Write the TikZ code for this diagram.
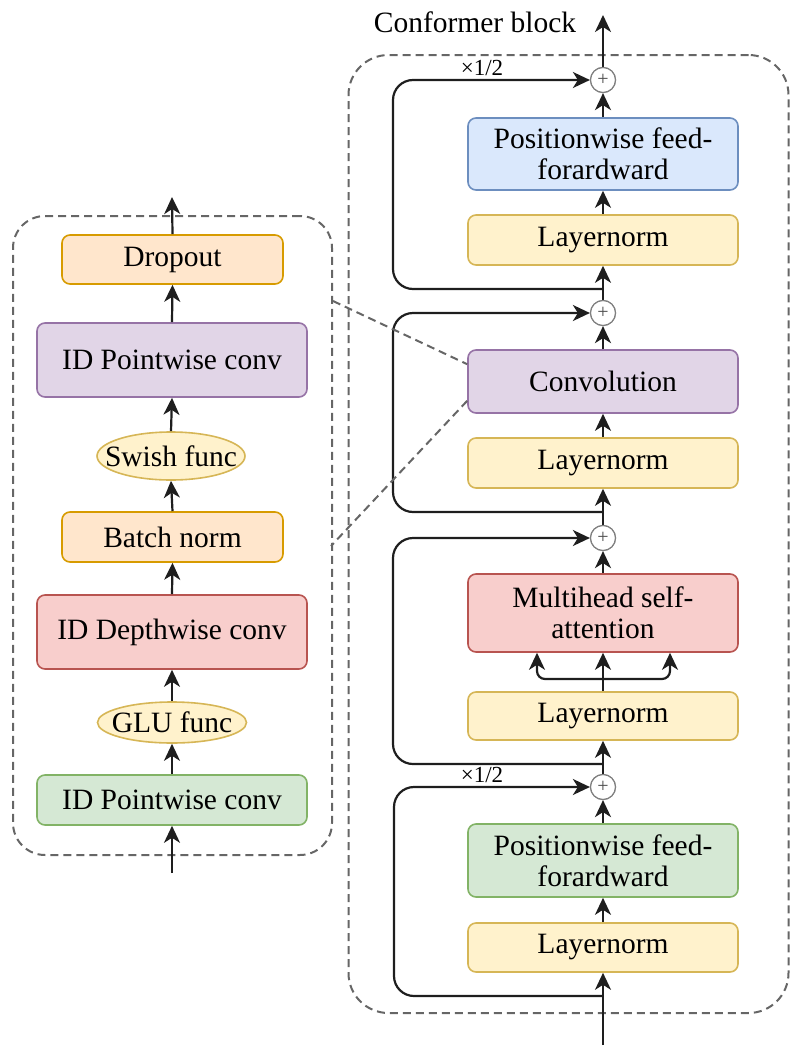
\documentclass[tikz,border=0pt]{standalone}
\usepackage{fontspec}
\setmainfont{Liberation Serif}
\usetikzlibrary{arrows.meta,shapes.geometric,calc}
\definecolor{lnfill}{HTML}{FFF2CC}
\definecolor{lnline}{HTML}{D6B656}
\definecolor{bluefill}{HTML}{DAE8FC}
\definecolor{blueline}{HTML}{6C8EBF}
\definecolor{purfill}{HTML}{E1D5E7}
\definecolor{purline}{HTML}{9673A6}
\definecolor{redfill}{HTML}{F8CECC}
\definecolor{redline}{HTML}{B85450}
\definecolor{grnfill}{HTML}{D5E8D4}
\definecolor{grnline}{HTML}{82B366}
\definecolor{orgfill}{HTML}{FFE6CC}
\definecolor{orgline}{HTML}{D79B00}
\definecolor{arrcol}{HTML}{1E1E1E}
\definecolor{dashcol}{HTML}{666666}
\begin{document}
\begin{tikzpicture}[x=1pt,y=-1pt,
  txt/.style={font=\fontsize{29.5}{31}\selectfont},
  box/.style={txt, draw, rounded corners=8pt, line width=1.6pt, minimum width=270pt, inner sep=0pt, align=center},
  lnbox/.style={box, fill=lnfill, draw=lnline, minimum height=50pt},
  bluebox/.style={box, fill=bluefill, draw=blueline, minimum height=72pt},
  purbox/.style={box, fill=purfill, draw=purline},
  redbox/.style={box, fill=redfill, draw=redline},
  grnbox/.style={box, fill=grnfill, draw=grnline},
  orgbox/.style={box, fill=orgfill, draw=orgline, minimum width=221pt, minimum height=49pt},
  ell/.style={txt, ellipse, draw=lnline, fill=lnfill, line width=1.6pt, inner sep=0pt},
  plusnode/.style={circle, draw=gray, fill=white, minimum size=25pt, inner sep=0pt, line width=1.2pt, text=black!70, font=\fontsize{20}{20}\selectfont},
  arr/.style={line width=2.2pt, draw=arrcol, -{Stealth[length=17pt,width=16pt,inset=5pt]}},
  skipline/.style={arr, rounded corners=20pt},
  dashbox/.style={draw=dashcol, line width=2pt, dash pattern=on 8pt off 5pt, inner sep=0pt},
  dashline/.style={draw=dashcol, line width=2pt, dash pattern=on 8pt off 5pt},
  half/.style={font=\fontsize{23}{23}\selectfont}
]
\useasboundingbox (0,0) rectangle (804,1055);

% panels
\node[dashbox, rounded corners=40pt, minimum width=440pt, minimum height=958pt] (rpanel) at (568.5,534) {};
\node[dashbox, rounded corners=32pt, minimum width=319pt, minimum height=639pt] (lpanel) at (172.5,535.5) {};

% right column
\node[txt] (title) at (475,22) {Conformer block};
\coordinate (out) at (603,15);
\node[plusnode] (p1) at (603,80) {+};
\node[bluebox] (ffn2) at (603,154) {Positionwise feed-\\forardward};
\node[lnbox] (ln1) at (603,240) {Layernorm};
\node[plusnode] (p2) at (603,313) {+};
\node[purbox, minimum height=63pt] (conv) at (603,381.5) {Convolution};
\node[lnbox] (ln2) at (603,463) {Layernorm};
\node[plusnode] (p3) at (603,538) {+};
\node[redbox, minimum height=78pt] (mhsa) at (603,613) {Multihead self-\\attention};
\node[lnbox, minimum height=48pt] (ln3) at (603,716) {Layernorm};
\node[plusnode] (p4) at (603,787) {+};
\node[grnbox, minimum height=73pt] (ffn1) at (603,860.5) {Positionwise feed-\\forardward};
\node[lnbox, minimum height=49pt] (ln4) at (603,947.5) {Layernorm};
\coordinate (in) at (603,1045);

\coordinate (b1) at (603,289);
\coordinate (b2) at (603,512);
\coordinate (b3) at (603,764);
\coordinate (b4) at (603,996);
\coordinate (fork) at (603,679);

% trunk
\draw[arr] (in) -- (ln4.south);
\draw[arr] (ln4.north) -- (ffn1.south);
\draw[arr] (ffn1.north) -- (p4.south);
\draw[arr] (p4.north) -- (ln3.south);
\draw[arr] (ln3.north) -- (mhsa.south);
\draw[arr, rounded corners=8pt] (fork) -| ($(mhsa.south)+(-66,0)$);
\draw[arr, rounded corners=8pt] (fork) -| ($(mhsa.south)+(67,0)$);
\draw[arr] (mhsa.north) -- (p3.south);
\draw[arr] (p3.north) -- (ln2.south);
\draw[arr] (ln2.north) -- (conv.south);
\draw[arr] (conv.north) -- (p2.south);
\draw[arr] (p2.north) -- (ln1.south);
\draw[arr] (ln1.north) -- (ffn2.south);
\draw[arr] (ffn2.north) -- (p1.south);
\draw[arr] (p1.north) -- (out);

% residual paths
\draw[skipline] (b1) -- (393,289) -- (393,80) -- (p1.west);
\draw[skipline] (b2) -- (393,512) -- (393,313) -- (p2.west);
\draw[skipline] (b3) -- (393,764) -- (393,538) -- (p3.west);
\draw[skipline] (b4) -- (394,996) -- (394,787) -- (p4.west);
\node[half] (h1) at (482,68) {×1/2};
\node[half] (h2) at (482,775) {×1/2};

% redraw plus nodes on top
\node[plusnode] at (p1) {+};
\node[plusnode] at (p2) {+};
\node[plusnode] at (p3) {+};
\node[plusnode] at (p4) {+};

% left column
\coordinate (lout) at (172,197);
\node[orgbox] (drop) at (172.5,259.5) {Dropout};
\node[purbox, minimum height=74pt] (pw2) at (172,360) {ID Pointwise conv};
\node[ell, minimum width=148pt, minimum height=48pt] (swish) at (171,456) {\makebox[0pt]{Swish func}};
\node[orgbox, minimum height=50pt] (bn) at (172.5,537) {Batch norm};
\node[redbox, minimum height=74pt] (dw) at (172,632) {ID Depthwise conv};
\node[ell, minimum width=149pt, minimum height=41pt] (glu) at (172,722.5) {\makebox[0pt]{GLU func}};
\node[grnbox, minimum height=50pt] (pw1) at (172,800) {ID Pointwise conv};
\coordinate (lin) at (172,873);

\draw[arr] (lin) -- (pw1.south);
\draw[arr] (pw1.north) -- (glu.south);
\draw[arr] (glu.north) -- (dw.south);
\draw[arr] (dw.north) -- (bn.south);
\draw[arr] (bn.north) -- (swish.south);
\draw[arr] (swish.north) -- (pw2.south);
\draw[arr] (pw2.north) -- (drop.south);
\draw[arr] (drop.north) -- (lout);

% zoom connectors
\draw[dashline] ($(lpanel.north east)+(0,86)$) -- ($(conv.north west)+(0,15)$);
\draw[dashline] ($(conv.south west)+(0,-13)$) -- ($(lpanel.north east)+(-2,331)$);
\end{tikzpicture}
\end{document}
